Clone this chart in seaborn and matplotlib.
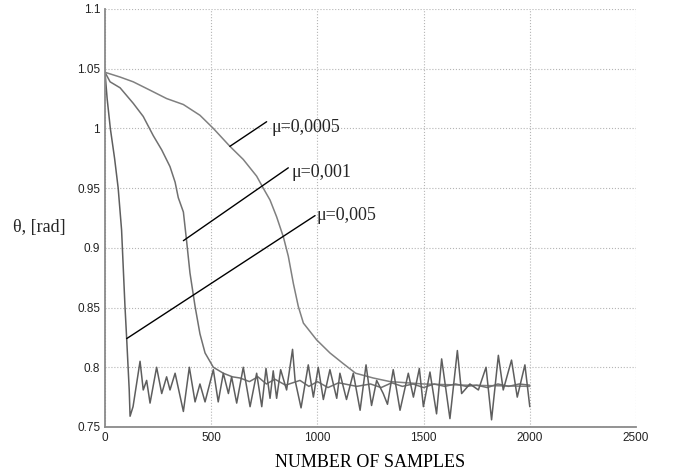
import matplotlib
matplotlib.use("Agg")
import matplotlib.pyplot as plt
import seaborn as sns
import pandas as pd
from matplotlib.ticker import FuncFormatter

# ---------------- data ----------------
mu005_n = [0, 10, 25, 45, 62, 78, 94, 102, 114, 118, 132, 165, 180, 196, 212, 243,
           267, 290, 306, 330, 369, 397, 424, 447, 471, 510, 533, 557, 581, 596,
           620, 651, 683, 714, 738, 758, 777, 792, 808, 827, 855, 883, 895, 923,
           957, 981, 1004, 1028, 1059, 1091, 1106, 1137, 1169, 1201, 1229, 1255,
           1279, 1310, 1330, 1357, 1389, 1428, 1452, 1480, 1499, 1530, 1561, 1585,
           1624, 1659, 1679, 1718, 1758, 1794, 1820, 1852, 1875, 1914, 1941, 1977,
           2000]
mu005_v = [1.047, 1.025, 1.000, 0.975, 0.950, 0.915, 0.851, 0.824, 0.781, 0.759,
           0.767, 0.805, 0.781, 0.789, 0.770, 0.800, 0.778, 0.792, 0.781, 0.795,
           0.763, 0.800, 0.771, 0.786, 0.771, 0.798, 0.771, 0.795, 0.778, 0.792,
           0.770, 0.800, 0.767, 0.795, 0.767, 0.799, 0.774, 0.797, 0.774, 0.798,
           0.781, 0.815, 0.789, 0.766, 0.802, 0.775, 0.800, 0.773, 0.798, 0.774,
           0.795, 0.773, 0.795, 0.764, 0.802, 0.768, 0.789, 0.778, 0.769, 0.798,
           0.764, 0.795, 0.775, 0.799, 0.767, 0.796, 0.761, 0.807, 0.757, 0.814,
           0.778, 0.786, 0.781, 0.800, 0.756, 0.810, 0.781, 0.806, 0.775, 0.802,
           0.767]

mu001_n = [0, 24, 71, 133, 180, 227, 267, 306, 330, 345, 369, 384, 400, 424, 447,
           471, 510, 557, 600, 636, 680, 720, 760, 800, 850, 918, 960, 1000, 1050,
           1100, 1185, 1250, 1300, 1350, 1400, 1450, 1500, 1550, 1600, 1650, 1700,
           1750, 1800, 1850, 1900, 1950, 2000]
mu001_v = [1.047, 1.039, 1.034, 1.021, 1.010, 0.994, 0.982, 0.968, 0.955, 0.942,
           0.930, 0.906, 0.879, 0.851, 0.828, 0.812, 0.800, 0.795, 0.792, 0.791,
           0.788, 0.792, 0.786, 0.790, 0.785, 0.789, 0.784, 0.788, 0.783, 0.787,
           0.784, 0.786, 0.783, 0.787, 0.784, 0.786, 0.783, 0.786, 0.784, 0.786,
           0.784, 0.785, 0.783, 0.786, 0.784, 0.786, 0.785]

mu0005_n = [0, 71, 133, 212, 290, 369, 447, 510, 588, 651, 714, 745, 777, 808, 840,
            863, 887, 910, 934, 996, 1059, 1122, 1180, 1263, 1342, 1500, 1700, 2000]
mu0005_v = [1.047, 1.043, 1.039, 1.032, 1.025, 1.020, 1.011, 1.000, 0.985, 0.974,
            0.960, 0.950, 0.940, 0.926, 0.909, 0.893, 0.870, 0.851, 0.837, 0.823,
            0.812, 0.803, 0.795, 0.791, 0.788, 0.786, 0.785, 0.784]

x_ticks = [0, 500, 1000, 1500, 2000, 2500]
y_ticks = [0.75, 0.8, 0.85, 0.9, 0.95, 1.0, 1.05, 1.1]
series_labels = ["μ=0,0005", "μ=0,001", "μ=0,005"]

# ---------------- figure ----------------
sns.set_style("white")
plt.rcParams["font.family"] = ["Liberation Serif", "DejaVu Serif"]

fig = plt.figure(figsize=(6.74, 4.73), dpi=100)
ax = fig.add_axes([0.1558, 0.0973, 0.7878, 0.8837])

df = pd.concat([
    pd.DataFrame({"n": mu0005_n, "theta": mu0005_v, "mu": series_labels[0]}),
    pd.DataFrame({"n": mu001_n, "theta": mu001_v, "mu": series_labels[1]}),
    pd.DataFrame({"n": mu005_n, "theta": mu005_v, "mu": series_labels[2]}),
])
palette = {series_labels[0]: "#808080", series_labels[1]: "#707070",
           series_labels[2]: "#5e5e5e"}
sns.lineplot(data=df, x="n", y="theta", hue="mu", palette=palette, sort=False,
             estimator=None, linewidth=1.1, legend=False, ax=ax)

ax.set_xlim(0, 2500)
ax.set_ylim(0.75, 1.1)
ax.set_xticks(x_ticks)
ax.set_yticks(y_ticks)
ax.yaxis.set_major_formatter(FuncFormatter(lambda v, p: f"{v:g}"))
ax.grid(True, linestyle=":", color="#b5b5b5", linewidth=0.8)
ax.set_axisbelow(True)
for s in ["top", "right"]:
    ax.spines[s].set_visible(False)
for s in ["left", "bottom"]:
    ax.spines[s].set_color("#8a8a8a")
    ax.spines[s].set_linewidth(1.3)
ax.tick_params(direction="in", length=4, width=0.8, color="#8a8a8a", pad=3.5,
               labelsize=8.5, labelcolor="#222222")
for lab in ax.get_xticklabels() + ax.get_yticklabels():
    lab.set_fontfamily(["Liberation Sans", "DejaVu Sans"])

ax.set_xlabel("NUMBER OF SAMPLES", fontsize=13, labelpad=7, color="black")
ax.set_ylabel("")
fig.text(13 / 674, 1 - 227 / 473, "θ, [rad]", fontsize=13, ha="left", va="center")

# leader lines and labels
leaders = [((588, 0.985), (761, 1.0056), (786, 1.001)),
           ((369, 0.906), (863, 0.967), (880, 0.963)),
           ((102, 0.824), (989, 0.927), (998, 0.927))]
for lab, (p0, p1, pt) in zip(series_labels, leaders):
    ax.annotate("", xy=p0, xytext=p1,
                arrowprops=dict(arrowstyle="-", color="black", lw=1.0,
                                shrinkA=0, shrinkB=0))
    ax.text(pt[0], pt[1], lab, fontsize=13, ha="left", va="center")

fig.savefig("out.png", dpi=100)
